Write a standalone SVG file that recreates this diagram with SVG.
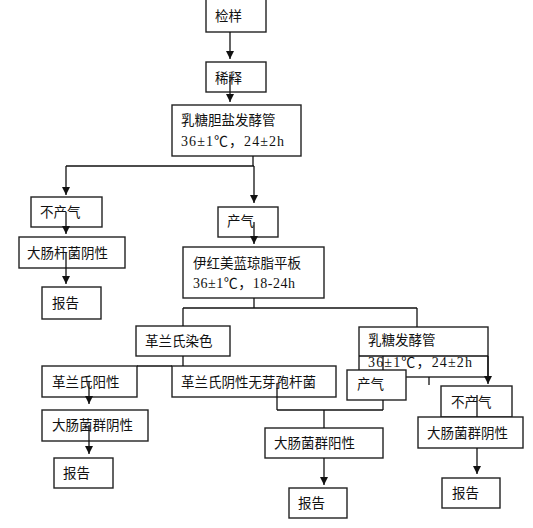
<svg xmlns="http://www.w3.org/2000/svg" width="533" height="528" viewBox="0 0 533 528">
<defs>
<style>
.n rect{fill:#fff;stroke:#222;stroke-width:1.4}
.n text{font-family:"Noto Sans CJK SC","Liberation Sans",sans-serif;font-size:13.5px;fill:#111}
.n text.m{font-family:"Liberation Serif","Noto Sans CJK SC",serif;font-size:14px}
.c line{stroke:#111;stroke-width:1.3}
.c line.a{marker-end:url(#ah)}
</style>
<marker id="ah" markerUnits="userSpaceOnUse" markerWidth="8" markerHeight="8" refX="8" refY="4" orient="auto">
<path d="M0,0 L8,4 L0,8 z" fill="#111"/>
</marker>
</defs>
<rect width="533" height="528" fill="#fff"/>
<g id="n1" class="n"><rect x="206" y="-1" width="60" height="33"/><text x="215" y="21">检样</text></g>
<g id="n2" class="n"><rect x="206" y="62" width="60" height="30"/><text x="215" y="83">稀释</text></g>
<g id="n3" class="n"><rect x="172" y="105" width="129" height="51"/><text x="181" y="125">乳糖胆盐发酵管</text><text class="m" x="181" y="146" textLength="103" lengthAdjust="spacing">36±1℃，24±2h</text></g>
<g id="n4" class="n"><rect x="31" y="197" width="71" height="30"/><text x="40" y="217">不产气</text></g>
<g id="n5" class="n"><rect x="19" y="237" width="106" height="31"/><text x="27" y="258">大肠杆菌阴性</text></g>
<g id="n6" class="n"><rect x="42" y="287" width="59" height="32"/><text x="52" y="308">报告</text></g>
<g id="n7" class="n"><rect x="218" y="207" width="60" height="30"/><text x="227" y="226">产气</text></g>
<g id="n8" class="n"><rect x="183" y="247" width="141" height="51"/><text x="193" y="268">伊红美蓝琼脂平板</text><text class="m" x="193" y="288" textLength="102" lengthAdjust="spacing">36±1℃，18-24h</text></g>
<g id="n9" class="n"><rect x="136" y="326" width="94" height="30"/><text x="145" y="346">革兰氏染色</text></g>
<g id="n10" class="n"><rect x="359" y="327" width="129" height="50"/><text x="368" y="345">乳糖发酵管</text><text class="m" x="368" y="367" textLength="104" lengthAdjust="spacing">36±1℃，24±2h</text></g>
<g id="n11" class="n"><rect x="42" y="366" width="95" height="31"/><text x="52" y="387">革兰氏阳性</text></g>
<g id="n12" class="n"><rect x="172" y="366" width="164" height="31"/><text x="181" y="387">革兰氏阴性无芽孢杆菌</text></g>
<g id="n13" class="n"><rect x="42" y="410" width="106" height="31"/><text x="52" y="430">大肠菌群阴性</text></g>
<g id="n14" class="n"><rect x="54" y="458" width="59" height="30"/><text x="63" y="478">报告</text></g>
<g id="n15" class="n"><rect x="347" y="370" width="59" height="30"/><text x="357" y="389">产气</text></g>
<g id="n16" class="n"><rect x="265" y="428" width="118" height="30"/><text x="274" y="448">大肠菌群阳性</text></g>
<g id="n17" class="n"><rect x="289" y="488" width="58" height="30"/><text x="298" y="508">报告</text></g>
<g id="n18" class="n"><rect x="441" y="386" width="71" height="31"/><text x="451" y="407">不产气</text></g>
<g id="n19" class="n"><rect x="418" y="417" width="105" height="31"/><text x="427" y="438">大肠菌群阴性</text></g>
<g id="n20" class="n"><rect x="442" y="478" width="58" height="30"/><text x="452" y="498">报告</text></g>
<g id="connectors" class="c">
<line class="a" x1="230" y1="32" x2="230" y2="59"/>
<line class="a" x1="230" y1="75" x2="230" y2="102"/>
<line x1="253" y1="156" x2="253" y2="166"/>
<line x1="66" y1="166" x2="254" y2="166"/>
<line class="a" x1="66" y1="166" x2="66" y2="195"/>
<line class="a" x1="254" y1="166" x2="254" y2="203"/>
<line class="a" x1="66" y1="212" x2="66" y2="234"/>
<line class="a" x1="66" y1="253" x2="66" y2="284"/>
<line class="a" x1="254" y1="222" x2="254" y2="244"/>
<line x1="254" y1="298" x2="254" y2="308"/>
<line x1="183" y1="308" x2="417" y2="308"/>
<line x1="183" y1="308" x2="183" y2="326"/>
<line x1="417" y1="308" x2="417" y2="327"/>
<line x1="183" y1="356" x2="183" y2="366"/>
<line x1="137" y1="366" x2="172" y2="366"/>
<line class="a" x1="89" y1="382" x2="89" y2="404"/>
<line class="a" x1="89" y1="425" x2="89" y2="454"/>
<line x1="277" y1="384" x2="277" y2="410"/>
<line x1="383" y1="400" x2="383" y2="410"/>
<line x1="277" y1="410" x2="383" y2="410"/>
<line x1="324" y1="410" x2="324" y2="428"/>
<line class="a" x1="324" y1="458" x2="324" y2="485"/>
<line x1="359" y1="356" x2="488" y2="356"/>
<line x1="383" y1="356" x2="383" y2="370"/>
<line class="a" x1="488" y1="356" x2="488" y2="384"/>
<line x1="429" y1="377" x2="429" y2="385"/>
<line x1="477" y1="395" x2="477" y2="417"/>
<line class="a" x1="477" y1="448" x2="477" y2="474"/>
</g>
</svg>
